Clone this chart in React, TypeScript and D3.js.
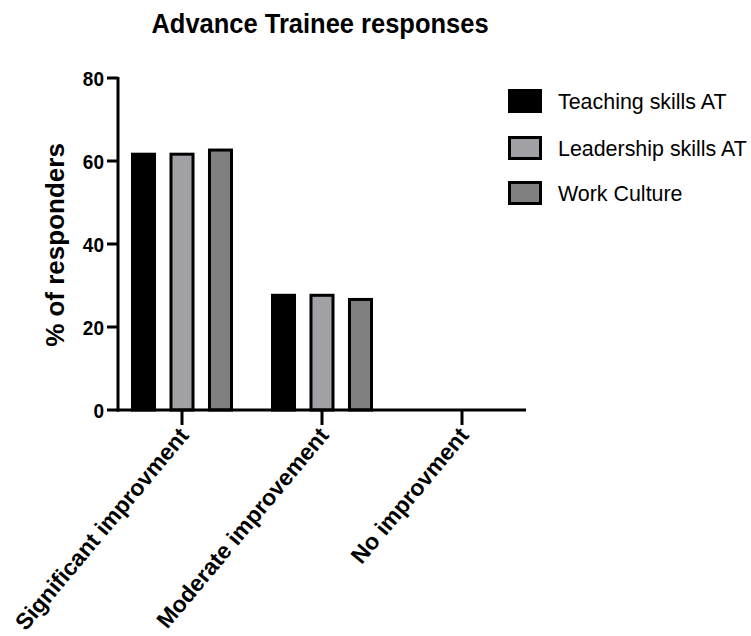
import * as d3 from "d3";

const categories = ["Significant improvment", "Moderate improvement", "No improvment"];
const seriesNames = ["Teaching skills AT", "Leadership skills AT", "Work Culture"];
const teaching = [62, 28, 0];
const leadership = [62, 28, 0];
const workCulture = [63, 27, 0];
const yTicks = [0, 20, 40, 60, 80];

const seriesValues = [teaching, leadership, workCulture];
const fills = ["#000000", "#a1a1a5", "#808080"];
const FONT = "'Liberation Sans', Arial, sans-serif";

export default function App() {
  const width = 751;
  const height = 636;

  const x0 = d3.scaleBand<string>().domain(categories).range([112, 532]);
  const x1 = d3.scaleBand<string>().domain(seriesNames).range([19, 121]).paddingInner(0.35);
  const y = d3.scaleLinear().domain([0, 80]).range([410, 78]);
  const sw = 3;

  return (
    <svg
      width={width}
      height={height}
      style={{ position: "absolute", left: 0, top: 0, background: "#fff" }}
      fontFamily={FONT}
    >
      <text
        transform="translate(320,33) scale(1.02,1.08)"
        textAnchor="middle"
        fontSize={25}
        fontWeight="bold"
      >
        Advance Trainee responses
      </text>

      {/* bars */}
      {categories.map((c, ci) =>
        seriesNames.map((s, si) => {
          const v = seriesValues[si][ci];
          if (!v) return null;
          const bx = (x0(c) ?? 0) + (x1(s) ?? 0);
          const bw = x1.bandwidth();
          return (
            <rect
              key={c + s}
              x={bx + sw / 2}
              y={y(v) + sw / 2}
              width={bw - sw}
              height={y(0) - y(v) - sw / 2}
              fill={fills[si]}
              stroke="#000"
              strokeWidth={sw}
            />
          );
        })
      )}

      {/* y axis */}
      <line x1={118} x2={118} y1={y(80) - 1} y2={y(0) + 1.5} stroke="#000" strokeWidth={3} />
      {yTicks.map((t) => (
        <g key={t}>
          <line x1={107} x2={118} y1={y(t)} y2={y(t)} stroke="#000" strokeWidth={3} />
          <text
            transform={`translate(104,${y(t) + 7.5}) scale(0.95,1.05)`}
            textAnchor="end"
            fontSize={20}
            fontWeight="bold"
          >
            {t}
          </text>
        </g>
      ))}
      <text
        transform={`translate(64,${(y(0) + y(80)) / 2 + 1}) rotate(-90)`}
        textAnchor="middle"
        fontSize={26}
        fontWeight="bold"
      >
        % of responders
      </text>

      {/* x axis */}
      <line x1={116.5} x2={526} y1={y(0)} y2={y(0)} stroke="#000" strokeWidth={3} />
      {categories.map((c) => {
        const cx = (x0(c) ?? 0) + x0.bandwidth() / 2;
        return (
          <g key={c}>
            <line x1={cx} x2={cx} y1={y(0)} y2={425} stroke="#000" strokeWidth={3} />
            <text
              transform={`translate(${cx + 8},${436}) rotate(-50)`}
              textAnchor="end"
              fontSize={23}
              fontWeight="bold"
            >
              {c}
            </text>
          </g>
        );
      })}

      {/* legend */}
      {seriesNames.map((s, i) => {
        const ly = [101, 148, 193][i];
        return (
          <g key={s}>
            <rect
              x={508 + sw / 2}
              y={ly - 12 + sw / 2}
              width={34 - sw}
              height={24 - sw}
              fill={fills[i]}
              stroke="#000"
              strokeWidth={sw}
            />
            <text transform={`translate(558,${ly + 8}) scale(1.02,1.08)`} fontSize={21}>
              {s}
            </text>
          </g>
        );
      })}
    </svg>
  );
}
